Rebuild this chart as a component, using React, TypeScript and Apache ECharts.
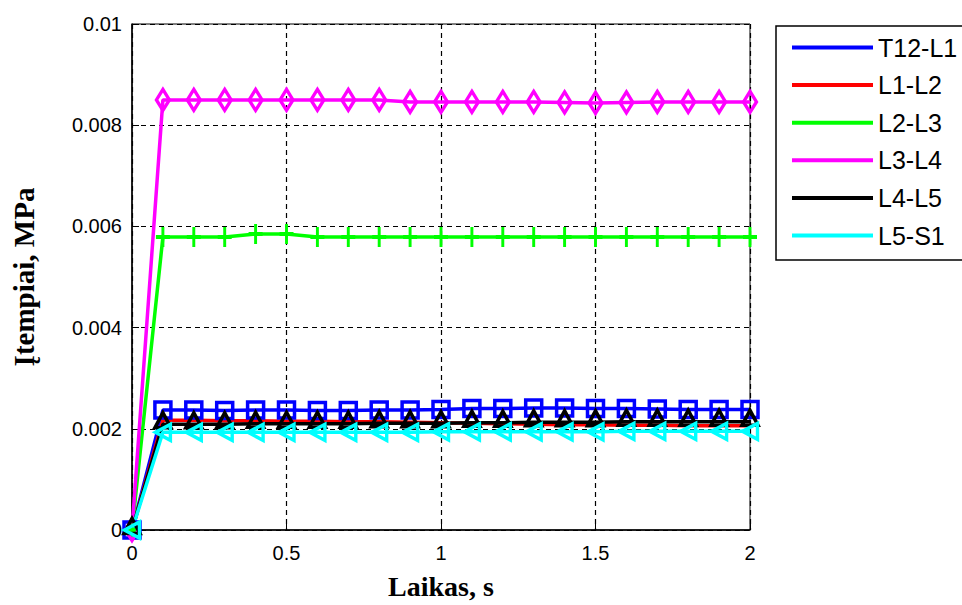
import React, { useEffect, useRef } from "react";
import * as echarts from "echarts";

// Time samples (s)
const time = [0, 0.1, 0.2, 0.3, 0.4, 0.5, 0.6, 0.7, 0.8, 0.9, 1.0, 1.1, 1.2, 1.3, 1.4, 1.5, 1.6, 1.7, 1.8, 1.9, 2.0];

// Stress per segment (MPa)
const t12L1 = [0, 0.00237, 0.00237, 0.00236, 0.00237, 0.00237, 0.00236, 0.00236, 0.00237, 0.00237, 0.00238, 0.0024, 0.0024, 0.00241, 0.00241, 0.0024, 0.0024, 0.00239, 0.00238, 0.00238, 0.00238];
const l1L2 = [0, 0.00217, 0.00217, 0.00216, 0.00216, 0.00215, 0.00215, 0.00214, 0.00214, 0.00213, 0.00212, 0.00211, 0.0021, 0.00209, 0.00208, 0.00208, 0.00207, 0.00207, 0.00206, 0.00206, 0.00206];
const l2L3 = [0, 0.00579, 0.00579, 0.00579, 0.00585, 0.00585, 0.00579, 0.00579, 0.00579, 0.00579, 0.00579, 0.00579, 0.00579, 0.00579, 0.00579, 0.00579, 0.00579, 0.00579, 0.00579, 0.00579, 0.00579];
const l3L4 = [0, 0.0085, 0.0085, 0.0085, 0.0085, 0.0085, 0.0085, 0.0085, 0.0085, 0.00846, 0.00846, 0.00846, 0.00846, 0.00846, 0.00845, 0.00844, 0.00845, 0.00846, 0.00846, 0.00846, 0.00846];
const l4L5 = [0, 0.00209, 0.00209, 0.00209, 0.0021, 0.0021, 0.0021, 0.0021, 0.00211, 0.00211, 0.00211, 0.00212, 0.00212, 0.00213, 0.00213, 0.00213, 0.00214, 0.00214, 0.00214, 0.00214, 0.00214];
const l5S1 = [0, 0.00193, 0.00193, 0.00193, 0.00193, 0.00193, 0.00193, 0.00193, 0.00193, 0.00193, 0.00194, 0.00194, 0.00194, 0.00194, 0.00194, 0.00194, 0.00195, 0.00195, 0.00195, 0.00195, 0.00195];

const seriesNames = ["T12-L1", "L1-L2", "L2-L3", "L3-L4", "L4-L5", "L5-S1"];
const seriesColors = ["#0000ff", "#ff0000", "#00ff00", "#ff00ff", "#000000", "#00ffff"];

const xTicks = [0, 0.5, 1, 1.5, 2];
const yTicks = [0, 0.002, 0.004, 0.006, 0.008, 0.01];

const SANS = "'Liberation Sans', Arial, Helvetica, sans-serif";
const SERIF = "'Liberation Serif', 'Times New Roman', serif";

type MarkerSpec = {
  symbol: string;
  size: number | number[];
  rotate?: number;
  offset?: number[];
};

const markers: MarkerSpec[] = [
  { symbol: "rect", size: 16 },
  { symbol: "none", size: 0 },
  { symbol: "path://M5 0 L5 10 M0 5 L10 5", size: [14, 20] },
  { symbol: "diamond", size: [13, 21] },
  { symbol: "triangle", size: [16, 15], offset: [0, -4] },
  { symbol: "triangle", size: [16, 15], rotate: 90 },
];

const values = [t12L1, l1L2, l2L3, l3L4, l4L5, l5S1];

export default function App() {
  const ref = useRef<HTMLDivElement>(null);

  useEffect(() => {
    if (!ref.current) return;
    const chart = echarts.init(ref.current, null, { renderer: "svg" });

    const series = values.map((vals, i) => {
      const m = markers[i];
      return {
        name: seriesNames[i],
        type: "line",
        data: time.map((t, k) => [t, vals[k]]),
        clip: false,
        symbol: m.symbol,
        symbolSize: m.size,
        symbolRotate: m.rotate ?? 0,
        symbolOffset: m.offset ?? [0, 0],
        showAllSymbol: true,
        lineStyle: { color: seriesColors[i], width: 3.5 },
        itemStyle: {
          color: "transparent",
          borderColor: seriesColors[i],
          borderWidth: 3.5,
        },
        emphasis: { disabled: true },
      };
    });

    chart.setOption({
      animation: false,
      backgroundColor: "#ffffff",
      grid: {
        left: 132,
        right: 212,
        top: 24,
        bottom: 68,
        show: true,
        borderColor: "#000",
        borderWidth: 1,
        backgroundColor: "#fff",
      },
      legend: {
        orient: "vertical",
        left: 776,
        top: 26,
        icon: "rect",
        itemWidth: 81,
        itemHeight: 4,
        itemGap: 12.6,
        padding: [9, 30, 12, 16],
        borderColor: "#000",
        borderWidth: 1.5,
        backgroundColor: "#fff",
        textStyle: { fontFamily: SANS, fontSize: 25, color: "#000", lineHeight: 25 },
        data: seriesNames.map((n, i) => ({ name: n, itemStyle: { color: seriesColors[i], borderWidth: 0 } })),
      },
      xAxis: {
        type: "value",
        min: xTicks[0],
        max: xTicks[xTicks.length - 1],
        interval: 0.5,
        name: "Laikas, s",
        nameLocation: "middle",
        nameGap: 42,
        nameTextStyle: { fontFamily: SERIF, fontWeight: "bold", fontSize: 28, color: "#000" },
        axisLine: { lineStyle: { color: "#000", width: 1.5 } },
        axisTick: { inside: true, length: 7, lineStyle: { color: "#000" } },
        axisLabel: {
          fontFamily: SANS,
          fontSize: 20,
          color: "#000",
          margin: 13,
          formatter: (v: number) => String(v),
        },
        splitLine: { show: true, lineStyle: { color: "#000", type: [5, 4], width: 1.2 } },
      },
      yAxis: {
        type: "value",
        min: yTicks[0],
        max: yTicks[yTicks.length - 1],
        interval: 0.002,
        name: "Įtempiai, MPa",
        nameLocation: "middle",
        nameGap: 94,
        nameTextStyle: { fontFamily: SERIF, fontWeight: "bold", fontSize: 29, color: "#000" },
        axisLine: { show: true, lineStyle: { color: "#000", width: 1.5 } },
        axisTick: { show: true, inside: true, length: 7, lineStyle: { color: "#000" } },
        axisLabel: {
          fontFamily: SANS,
          fontSize: 20,
          color: "#000",
          margin: 10,
          formatter: (v: number) => String(+v.toFixed(3)),
        },
        splitLine: { show: true, lineStyle: { color: "#000", type: [5, 4], width: 1.2 } },
      },
      series,
    });

    return () => chart.dispose();
  }, []);

  return (
    <div
      ref={ref}
      style={{ position: "fixed", left: 0, top: 0, width: 962, height: 605, background: "#fff" }}
    />
  );
}
